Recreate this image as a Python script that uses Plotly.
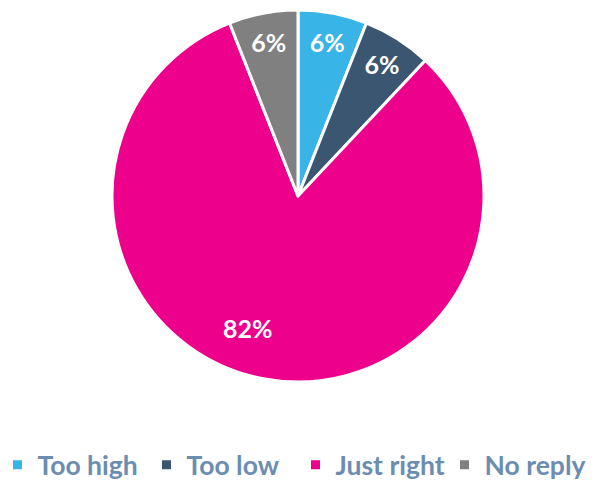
import math
import plotly.graph_objects as go

categories = ["Too high", "Too low", "Just right", "No reply"]
shares = [6, 6, 82, 6]
slice_colors = ["#38b4e6", "#3b5670", "#ec008c", "#808080"]

# The large slice gets its label as an annotation, the small ones keep inside text
big = shares.index(max(shares))
slice_text = ["" if i == big else f"{v}%" for i, v in enumerate(shares)]

W, H = 597, 481
pie_x = [112 / W, 484 / W]
pie_y = [(H - 382) / H, (H - 10) / H]

fig = go.Figure(
    go.Pie(
        labels=categories,
        values=shares,
        text=slice_text,
        sort=False,
        direction="clockwise",
        rotation=0,
        marker=dict(colors=slice_colors, line=dict(color="white", width=3)),
        texttemplate="%{text}",
        textposition="inside",
        insidetextorientation="horizontal",
        textfont=dict(family="Lato", size=25, color="white", weight="bold"),
        domain=dict(x=pie_x, y=pie_y),
        hoverinfo="label+percent",
    )
)

# angle of the big slice's label, measured clockwise from 12 o'clock
start = sum(shares[:big]) / sum(shares) * 360
label_angle = math.radians(start + 157.5)
cx, cy = sum(pie_x) / 2, sum(pie_y) / 2
r_px = 186 * 0.76
fig.add_annotation(
    text=f"{shares[big]}%",
    x=cx + r_px * math.sin(label_angle) / W,
    y=cy + r_px * math.cos(label_angle) / H,
    xref="paper",
    yref="paper",
    xanchor="center",
    yanchor="middle",
    showarrow=False,
    font=dict(family="Lato", size=25, color="white", weight="bold"),
)

fig.update_layout(
    width=W,
    height=H,
    margin=dict(l=0, r=0, t=0, b=0, autoexpand=False),
    paper_bgcolor="white",
    plot_bgcolor="white",
    showlegend=True,
    legend=dict(
        orientation="h",
        x=0.5 - 3 / W,
        xanchor="center",
        y=(H - 465) / H,
        yanchor="middle",
        font=dict(family="Lato", size=26.5, color="#6c8db0", weight="bold"),
        itemwidth=30,
        entrywidth=104,
    ),
)

fig.write_html("out.html")
